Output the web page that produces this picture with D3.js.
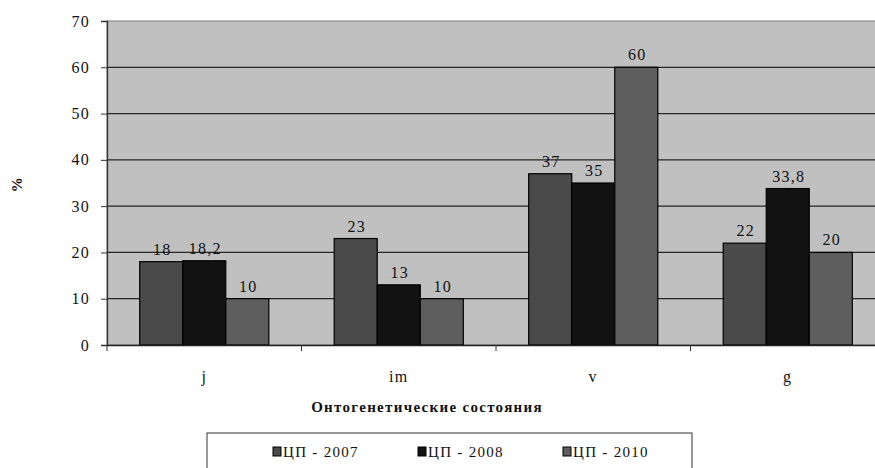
<!DOCTYPE html>
<html>
<head>
<meta charset="utf-8">
<script src="https://cdn.jsdelivr.net/npm/d3@7"></script>
<style>
  html, body { margin: 0; padding: 0; background: #fff; }
  svg text { font-family: "Liberation Serif", "Times New Roman", serif; letter-spacing: 1.3px; }
</style>
</head>
<body>
<svg id="chart" width="875" height="468"></svg>
<script>
// Ontogenetic states and the share (%) per census year
const categories = ["j", "im", "v", "g"];
const seriesNames = ["ЦП - 2007", "ЦП - 2008", "ЦП - 2010"];
const values2007 = [18, 23, 37, 22];
const values2008 = [18.2, 13, 35, 33.8];
const values2010 = [10, 10, 60, 20];
const valueLabels2007 = ["18", "23", "37", "22"];
const valueLabels2008 = ["18,2", "13", "35", "33,8"];
const valueLabels2010 = ["10", "10", "60", "20"];
const yTicks = [0, 10, 20, 30, 40, 50, 60, 70];
const seriesColors = ["#4a4a4a", "#121212", "#5e5e5e"];

const series = [
  { name: seriesNames[0], values: values2007, labels: valueLabels2007, color: seriesColors[0] },
  { name: seriesNames[1], values: values2008, labels: valueLabels2008, color: seriesColors[1] },
  { name: seriesNames[2], values: values2010, labels: valueLabels2010, color: seriesColors[2] }
];

const svg = d3.select("#chart");
const plot = { left: 107, top: 21, right: 885, bottom: 345 };

const x = d3.scaleBand().domain(categories).range([plot.left, plot.right]).paddingInner(0).paddingOuter(0);
const inner = d3.scaleBand().domain(seriesNames).range([0, x.bandwidth()]).paddingOuter(0.76).paddingInner(0);
const y = d3.scaleLinear().domain([0, 70]).range([plot.bottom, plot.top]);

// plot background
svg.append("rect")
  .attr("x", plot.left).attr("y", plot.top)
  .attr("width", plot.right - plot.left).attr("height", plot.bottom - plot.top)
  .attr("fill", "#c0c0c0")
  .attr("stroke", "#7a7a7a").attr("stroke-width", 1);

// horizontal gridlines
svg.append("g").selectAll("line")
  .data(yTicks.filter(d => d > 0 && d < 70))
  .join("line")
  .attr("x1", plot.left).attr("x2", plot.right)
  .attr("y1", d => y(d)).attr("y2", d => y(d))
  .attr("stroke", "#262626").attr("stroke-width", 1.2);

// y axis
const yAxis = svg.append("g")
  .attr("transform", `translate(${plot.left},0)`)
  .call(d3.axisLeft(y).tickValues(yTicks).tickSize(6).tickPadding(11).tickFormat(d3.format("d")));
yAxis.select(".domain").attr("stroke", "#333").attr("stroke-width", 1.3);
yAxis.selectAll(".tick line").attr("stroke", "#333");
yAxis.selectAll(".tick text")
  .attr("font-size", 16).attr("fill", "#111");

// bars
const groups = svg.append("g").selectAll("g")
  .data(categories)
  .join("g")
  .attr("transform", d => `translate(${x(d)},0)`);

groups.selectAll("rect")
  .data((c, i) => series.map(s => ({ s, v: s.values[i], label: s.labels[i] })))
  .join("rect")
  .attr("x", d => inner(d.s.name))
  .attr("y", d => y(d.v))
  .attr("width", inner.bandwidth())
  .attr("height", d => y(0) - y(d.v))
  .attr("fill", d => d.s.color)
  .attr("stroke", "#000").attr("stroke-width", 1.2);

groups.selectAll("text.val")
  .data((c, i) => series.map(s => ({ s, v: s.values[i], label: s.labels[i] })))
  .join("text")
  .attr("class", "val")
  .attr("x", d => inner(d.s.name) + inner.bandwidth() / 2 + 1)
  .attr("y", d => y(d.v) - 7)
  .attr("text-anchor", "middle")
  .attr("font-size", 16).attr("fill", "#111")
  .text(d => d.label);

// x axis
const xAxis = svg.append("g")
  .attr("transform", `translate(0,${plot.bottom})`)
  .call(d3.axisBottom(x).tickSize(0).tickPadding(26));
xAxis.select(".domain").attr("stroke", "#222").attr("stroke-width", 1.3);
xAxis.selectAll(".tick text")
  .attr("font-size", 16).attr("fill", "#111");

// category separators below the axis
svg.append("g").selectAll("line")
  .data(categories.map(c => x(c)).concat([plot.right]))
  .join("line")
  .attr("x1", d => d).attr("x2", d => d)
  .attr("y1", plot.bottom).attr("y2", plot.bottom + 6)
  .attr("stroke", "#333");

// axis titles
svg.append("text")
  .attr("x", 427).attr("y", 412)
  .attr("text-anchor", "middle")
  .attr("font-size", 15).attr("font-weight", "bold").attr("fill", "#111")
  .text("Онтогенетические состояния");

svg.append("text")
  .attr("transform", "translate(22,184) rotate(-90)")
  .attr("text-anchor", "middle")
  .attr("font-size", 15).attr("font-weight", "bold").attr("fill", "#111")
  .text("%");

// legend
const legend = svg.append("g");
legend.append("rect")
  .attr("x", 207).attr("y", 433).attr("width", 485).attr("height", 60)
  .attr("fill", "#fff").attr("stroke", "#333").attr("stroke-width", 1);

const legendX = [273, 418, 563];
const items = legend.selectAll("g.item")
  .data(series)
  .join("g")
  .attr("class", "item")
  .attr("transform", (d, i) => `translate(${legendX[i]},447)`);
items.append("rect")
  .attr("width", 8).attr("height", 9)
  .attr("fill", d => d.color).attr("stroke", "#000").attr("stroke-width", 1);
items.append("text")
  .attr("x", 10).attr("y", 10)
  .attr("font-size", 15).attr("fill", "#111")
  .text(d => d.name);
</script>
</body>
</html>
